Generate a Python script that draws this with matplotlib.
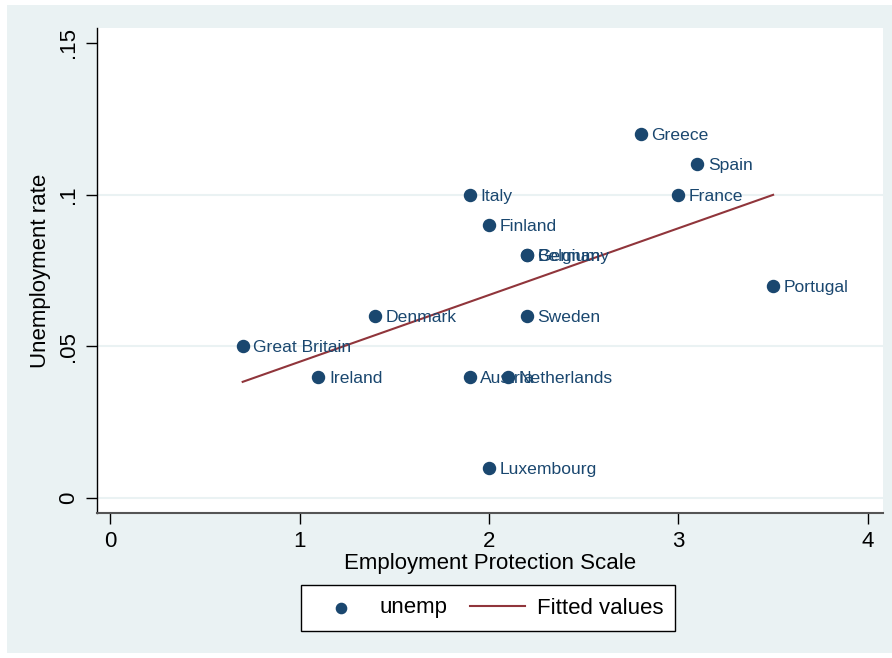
import matplotlib.pyplot as plt
import numpy as np
from matplotlib.patches import Rectangle

# Stata-like scatter of unemployment vs employment protection
countries = ['Great Britain', 'Ireland', 'Denmark', 'Italy', 'Austria', 'Finland',
             'Luxembourg', 'Netherlands', 'Belgium', 'Germany', 'Sweden',
             'Greece', 'France', 'Spain', 'Portugal']
protection = [0.7, 1.1, 1.4, 1.9, 1.9, 2.0, 2.0, 2.1, 2.2, 2.2, 2.2, 2.8, 3.0, 3.1, 3.5]
unemp = [0.05, 0.04, 0.06, 0.10, 0.04, 0.09, 0.01, 0.04, 0.08, 0.08, 0.06,
         0.12, 0.10, 0.11, 0.07]

xticks = [0, 1, 2, 3, 4]
yticks = [0, 0.05, 0.1, 0.15]
ytick_labels = ['0', '.05', '.1', '.15']

NAVY = '#1a476f'
MAROON = '#90353b'
BG = '#eaf2f3'

plt.rcParams['font.family'] = ['Liberation Sans', 'DejaVu Sans']

fig = plt.figure(figsize=(8.92, 6.58), dpi=100)
fig.patch.set_facecolor('white')
fig.patches.append(Rectangle((7 / 892, 5 / 658), 1 - 7 / 892, 1 - 10 / 658,
                             transform=fig.transFigure, facecolor=BG,
                             edgecolor='none', zorder=-10))

ax = fig.add_axes([97 / 892, 1 - 513 / 658, 786 / 892, 485 / 658])
ax.set_facecolor('white')

# grid lines
for yv in yticks[:-1]:
    ax.axhline(yv, color=BG, lw=1.5, zorder=1)

ax.scatter(protection, unemp, s=75, color=NAVY, zorder=3, label='unemp')
for name, xv, yv in zip(countries, protection, unemp):
    ax.annotate(name, (xv, yv), xytext=(7.5, -1), textcoords='offset points',
                va='center', ha='left', fontsize=12.6, color=NAVY, zorder=4)

# linear fit
slope, intercept = np.polyfit(protection, unemp, 1)
xfit = np.array([min(protection), max(protection)])
ax.plot(xfit, slope * xfit + intercept, color=MAROON, lw=1.5, zorder=2,
        label='Fitted values')

ax.set_xlim(-0.069, 4.08)
ax.set_ylim(-0.0049, 0.1549)
ax.set_xticks(xticks)
ax.set_yticks(yticks)
ax.set_yticklabels(ytick_labels, rotation=90, va='center')
ax.tick_params(axis='both', direction='out', length=8, width=1, labelsize=16,
               colors='black')
ax.tick_params(axis='x', pad=5)
ax.tick_params(axis='y', pad=5)

for side in ['top', 'right']:
    ax.spines[side].set_visible(False)
ax.spines['left'].set_color('black')
ax.spines['bottom'].set_color('#555555')
ax.spines['left'].set_linewidth(1)
ax.spines['bottom'].set_linewidth(1.5)

ax.set_xlabel('Employment Protection Scale', fontsize=16, labelpad=1)
ax.set_ylabel('Unemployment rate', fontsize=16, labelpad=5)

h, l = ax.get_legend_handles_labels()
leg = fig.legend(h, l, loc='center', bbox_to_anchor=(488 / 892, 1 - 608 / 658),
                 ncol=2, fontsize=16, frameon=True, fancybox=False,
                 edgecolor='black', framealpha=1, handlelength=2.5,
                 handletextpad=0.5, columnspacing=1.0, borderpad=0.55,
                 borderaxespad=0, scatterpoints=1, markerscale=0.85)
leg.get_frame().set_linewidth(1)

fig.savefig('out.png', dpi=100, facecolor=fig.get_facecolor())
